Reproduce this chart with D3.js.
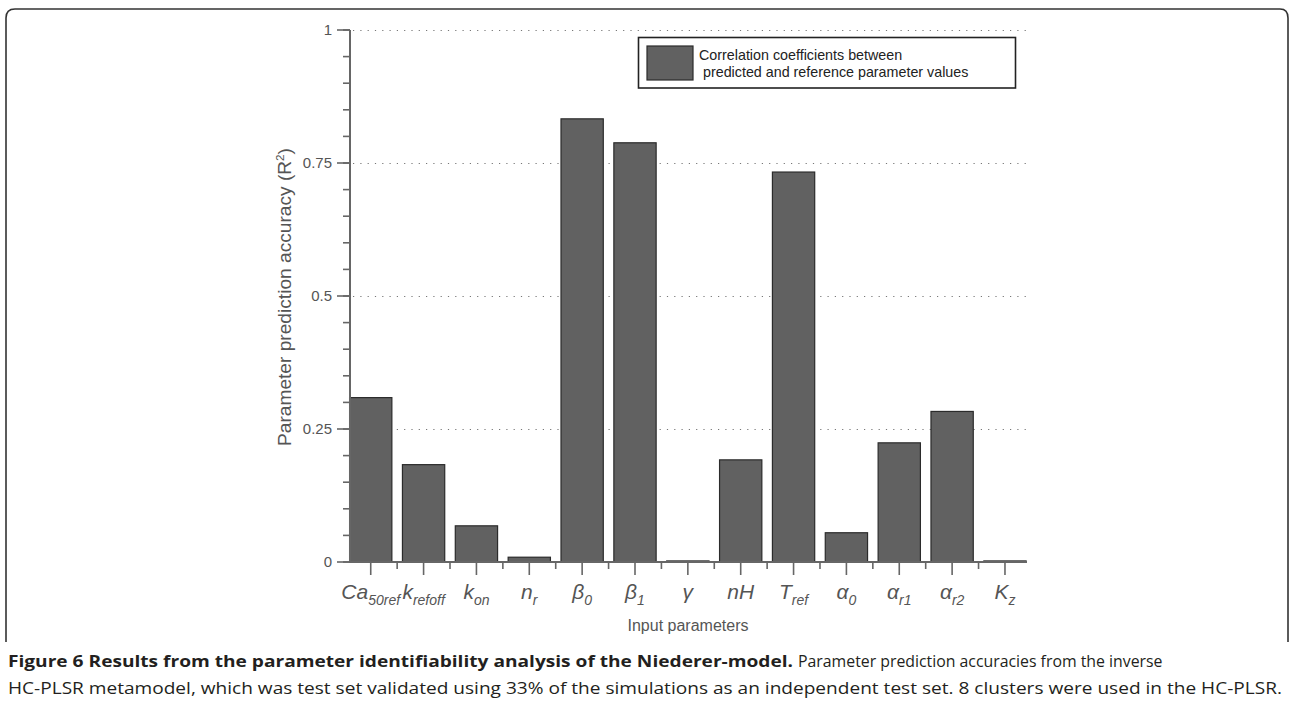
<!DOCTYPE html>
<html>
<head>
<meta charset="utf-8">
<script src="https://cdn.jsdelivr.net/npm/d3@7"></script>
<style>
  html, body { margin: 0; padding: 0; background: #fff; }
  svg { display: block; }
</style>
</head>
<body>
<svg id="fig" width="1289" height="703"></svg>
<script>
// Parameter names: main symbol and its subscript
const paramMain = ["Ca", "k", "k", "n", "\u03B2", "\u03B2", "\u03B3", "nH", "T", "\u03B1", "\u03B1", "\u03B1", "K"];
const paramSub  = ["50ref", "refoff", "on", "r", "0", "1", "", "", "ref", "0", "r1", "r2", "z"];
const categories = paramMain.map((m, i) => m + paramSub[i]);

// R^2 between predicted and reference parameter values
const r2Values = [0.309, 0.183, 0.068, 0.009, 0.833, 0.788, 0.002, 0.192, 0.733, 0.055, 0.224, 0.283, 0.002];

const yMajorTicks = [0, 0.25, 0.5, 0.75, 1];
const yTickLabels = ["0", "0.25", "0.5", "0.75", "1"];
const yMinorTicks = d3.range(0, 1.0001, 0.05);

const legendLines = ["Correlation coefficients between", " predicted and reference parameter values"];
const yLabel = "Parameter prediction accuracy (R";
const xLabel = "Input parameters";
const captionBold = "Figure 6 Results from the parameter identifiability analysis of the Niederer-model.";
const captionRest = "Parameter prediction accuracies from the inverse";
const captionLine2 = "HC-PLSR metamodel, which was test set validated using 33% of the simulations as an independent test set. 8 clusters were used in the HC-PLSR.";

const svg = d3.select("#fig");
const axisColor = "#666";
const textColor = "#555";
const barFill = "#616161";
const barStroke = "#2b2b2b";

// Figure frame: rounded top corners, open at the bottom
svg.append("path")
  .attr("d", "M6,642 L6,18 Q6,9 15,9 L1280,9 Q1288,9 1288,18 L1288,642")
  .attr("fill", "none").attr("stroke", "#333").attr("stroke-width", 1.6);

// Scales
const x = d3.scaleBand().domain(categories).range([344.3, 1031.4]).paddingInner(0.2).paddingOuter(0.1);
const y = d3.scaleLinear().domain([0, 1]).range([562, 30]);
const step = x.step();
const center = d => x(d) + x.bandwidth() / 2;
const axisX = 350, axisEnd = 1027;

// Dotted gridlines
svg.append("g").selectAll("line").data(yMajorTicks.filter(v => v > 0)).join("line")
  .attr("x1", axisX + 3).attr("x2", axisEnd)
  .attr("y1", d => Math.round(y(d)) + 0.5).attr("y2", d => Math.round(y(d)) + 0.5)
  .attr("stroke", "#777").attr("stroke-width", 1.2).attr("stroke-dasharray", "1.2,6.1");

// Bars
svg.append("g").selectAll("rect").data(categories).join("rect")
  .attr("x", d => x(d))
  .attr("width", x.bandwidth())
  .attr("y", (d, i) => y(r2Values[i]))
  .attr("height", (d, i) => y(0) - y(r2Values[i]))
  .attr("fill", barFill).attr("stroke", barStroke).attr("stroke-width", 1.2);

// Y axis: line, major and minor ticks
const yAxis = svg.append("g");
yAxis.append("line").attr("x1", axisX).attr("x2", axisX).attr("y1", y(1)).attr("y2", y(0))
  .attr("stroke", axisColor).attr("stroke-width", 2);
yAxis.selectAll(".minor").data(yMinorTicks).join("line").attr("class", "minor")
  .attr("x1", axisX - 7).attr("x2", axisX).attr("y1", d => y(d)).attr("y2", d => y(d))
  .attr("stroke", axisColor).attr("stroke-width", 1.6);
yAxis.selectAll(".major").data(yMajorTicks).join("line").attr("class", "major")
  .attr("x1", axisX - 13).attr("x2", axisX).attr("y1", d => y(d)).attr("y2", d => y(d))
  .attr("stroke", axisColor).attr("stroke-width", 1.6);
yAxis.selectAll("text").data(yMajorTicks).join("text")
  .attr("x", axisX - 18).attr("y", d => y(d)).attr("dy", "0.36em")
  .attr("text-anchor", "end")
  .attr("font-family", "Liberation Sans, Arial, sans-serif").attr("font-size", 15)
  .attr("fill", textColor)
  .text((d, i) => yTickLabels[i]);

// X axis: baseline, ticks at category centres and shorter ticks at boundaries
const xAxis = svg.append("g");
xAxis.append("line").attr("x1", axisX).attr("x2", axisEnd).attr("y1", y(0)).attr("y2", y(0))
  .attr("stroke", axisColor).attr("stroke-width", 2);
xAxis.selectAll(".major").data(categories).join("line").attr("class", "major")
  .attr("x1", center).attr("x2", center).attr("y1", y(0)).attr("y2", y(0) + 13)
  .attr("stroke", axisColor).attr("stroke-width", 1.6);
xAxis.selectAll(".minor").data(categories.slice(0, -1)).join("line").attr("class", "minor")
  .attr("x1", d => center(d) + step / 2).attr("x2", d => center(d) + step / 2)
  .attr("y1", y(0)).attr("y2", y(0) + 7)
  .attr("stroke", axisColor).attr("stroke-width", 1.6);

const catText = xAxis.selectAll("text").data(categories).join("text")
  .attr("x", center).attr("y", 599)
  .attr("text-anchor", "middle")
  .attr("font-family", "Liberation Sans, Arial, sans-serif").attr("font-style", "italic")
  .attr("font-size", 21).attr("fill", textColor);
catText.append("tspan").text((d, i) => paramMain[i]);
catText.append("tspan").attr("font-size", 14).attr("dy", 6).text((d, i) => paramSub[i]);

// Axis titles
svg.append("text")
  .attr("transform", "translate(291,297) rotate(-90)")
  .attr("text-anchor", "middle")
  .attr("font-family", "Liberation Sans, Arial, sans-serif").attr("font-size", 18)
  .attr("fill", textColor)
  .attr("textLength", 298).attr("lengthAdjust", "spacingAndGlyphs")
  .call(t => {
    t.append("tspan").text(yLabel);
    t.append("tspan").attr("font-size", 11).attr("dy", -7).text("2");
    t.append("tspan").attr("dy", 7).text(")");
  });

svg.append("text")
  .attr("x", 688).attr("y", 631).attr("text-anchor", "middle")
  .attr("font-family", "Liberation Sans, Arial, sans-serif").attr("font-size", 16)
  .attr("fill", textColor).text(xLabel);

// Legend
const legend = svg.append("g");
legend.append("rect").attr("x", 638.5).attr("y", 37.5).attr("width", 377).attr("height", 50.5)
  .attr("fill", "#fff").attr("stroke", "#222").attr("stroke-width", 1.6);
legend.append("rect").attr("x", 647).attr("y", 46).attr("width", 46).attr("height", 34)
  .attr("fill", barFill).attr("stroke", barStroke).attr("stroke-width", 1.2);
legend.selectAll("text").data(legendLines).join("text")
  .attr("x", 699).attr("y", (d, i) => 60 + i * 17)
  .attr("font-family", "Liberation Sans, Arial, sans-serif").attr("font-size", 14.3)
  .attr("fill", "#222").attr("xml:space", "preserve")
  .text(d => d);

// Caption
const capFont = "Open Sans, sans-serif";
const capSize = 15.5;
svg.append("text")
  .attr("x", 8).attr("y", 667)
  .attr("font-family", capFont).attr("font-size", capSize).attr("font-weight", "bold").attr("fill", "#231f20")
  .attr("textLength", 785).attr("lengthAdjust", "spacingAndGlyphs")
  .text(captionBold);

// the regular run is squeezed horizontally to its measured width
const restG = svg.append("g");
const restText = restG.append("text")
  .attr("font-family", capFont).attr("font-size", capSize).attr("fill", "#231f20")
  .text(captionRest);
const squeeze = 365 / restText.node().getComputedTextLength();
restG.attr("transform", `translate(798,667) scale(${squeeze},1)`);

svg.append("text")
  .attr("x", 8).attr("y", 694)
  .attr("font-family", capFont).attr("font-size", capSize).attr("fill", "#231f20")
  .attr("textLength", 1274).attr("lengthAdjust", "spacingAndGlyphs")
  .text(captionLine2);
</script>
</body>
</html>
